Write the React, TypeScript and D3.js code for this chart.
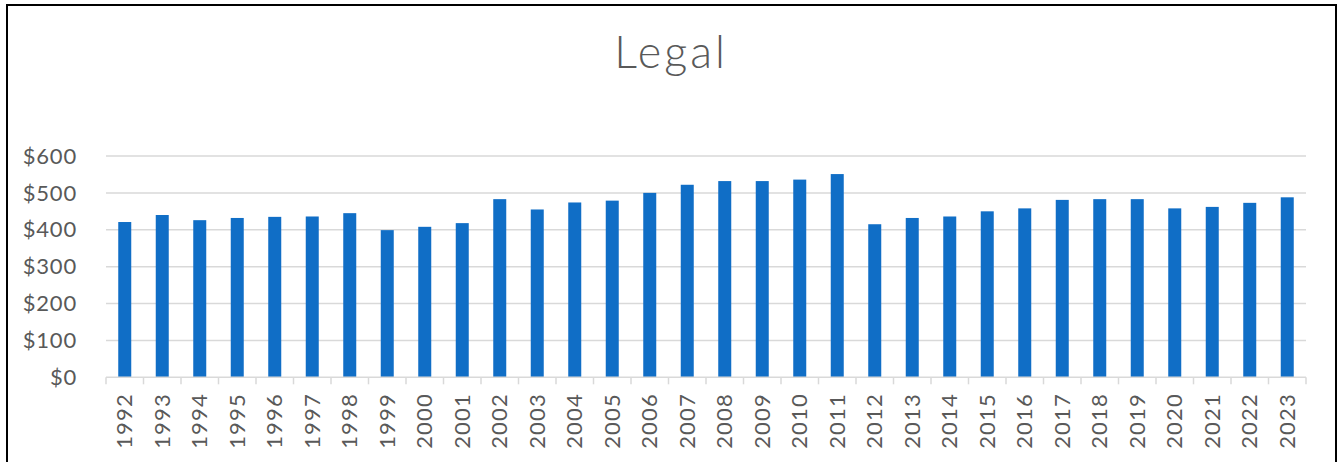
import React from "react";
import * as d3 from "d3";

const years = ["1992","1993","1994","1995","1996","1997","1998","1999","2000","2001","2002","2003","2004","2005","2006","2007","2008","2009","2010","2011","2012","2013","2014","2015","2016","2017","2018","2019","2020","2021","2022","2023"];
const values = [421,440,426,432,435,436,445,399,408,418,483,455,474,479,500,522,532,532,536,551,415,432,436,450,458,481,483,483,458,462,473,488];
const yTicks = [0,100,200,300,400,500,600];
const title = "Legal";

const W = 1343, H = 462;
const M = { left: 106, right: 1306, top: 156, bottom: 377.3 };
const FONT = "Lato, 'Open Sans', sans-serif";
const TXT = "#595959";

export default function App() {
  const band = d3.scaleBand<string>().domain(years).range([M.left, M.right]);
  const y = d3.scaleLinear().domain([0, 600]).range([M.bottom, M.top]);
  const fmt = (v: number) => "$" + d3.format("d")(v);
  return (
    <svg width={W} height={H} style={{ position: "absolute", left: 0, top: 0, background: "#fff" }}>
      <rect x={7} y={5} width={1329} height={470} fill="#fff" stroke="#000" strokeWidth={2} />
      <text x={671} y={68} textAnchor="middle" fontFamily={FONT} fontWeight={300} fontSize={45} letterSpacing={3} fill={TXT}>{title}</text>
      {yTicks.map(t => (
        <g key={t}>
          {t > 0 && <line x1={M.left} x2={M.right} y1={y(t)} y2={y(t)} stroke="#d9d9d9" strokeWidth={1.5} />}
          <text x={77} y={y(t)} dy="0.35em" textAnchor="end" fontFamily={FONT} fontWeight={400} fontSize={22} letterSpacing={0.8} fill={TXT}>{fmt(t)}</text>
        </g>
      ))}
      {values.map((v, i) => (
        <rect key={years[i]} x={band(years[i])! + band.bandwidth() / 2 - 6.5} width={13} y={y(v)} height={y(0) - y(v)} fill="#106EC6" />
      ))}
      <line x1={M.left} x2={M.right} y1={y(0)} y2={y(0)} stroke="#d9d9d9" strokeWidth={1.5} />
      {years.map(yr => (
        <line key={"t" + yr} x1={band(yr)!} x2={band(yr)!} y1={y(0)} y2={y(0) + 7} stroke="#d9d9d9" strokeWidth={1.5} />
      ))}
      <line x1={M.right} x2={M.right} y1={y(0)} y2={y(0) + 7} stroke="#d9d9d9" strokeWidth={1.5} />
      {years.map(yr => {
        const cx = band(yr)! + band.bandwidth() / 2;
        return (
          <text key={"l" + yr} transform={`translate(${cx},${393}) rotate(-90)`} textAnchor="end" dy="0.35em" fontFamily={FONT} fontWeight={400} fontSize={22} letterSpacing={1.2} fill={TXT}>{yr}</text>
        );
      })}
    </svg>
  );
}
